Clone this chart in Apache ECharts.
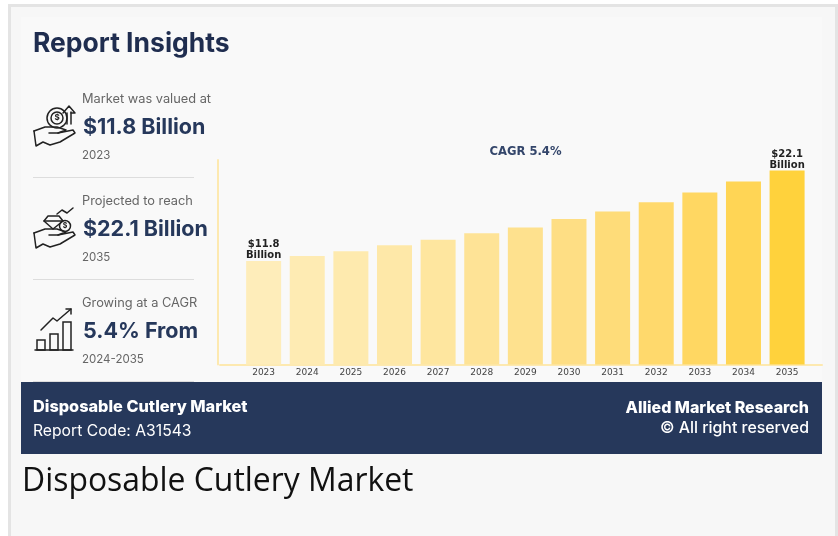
<!DOCTYPE html>
<html><head><meta charset="utf-8">
<style>html,body{margin:0;padding:0;background:#fff}#c{width:838px;height:536px}</style>
<script src="https://cdn.jsdelivr.net/npm/echarts@6/dist/echarts.min.js"></script>
</head><body><div id="c"></div>
<script>
const years=[2023,2024,2025,2026,2027,2028,2029,2030,2031,2032,2033,2034,2035];
const values=[11.8,12.36,12.9,13.58,14.2,14.94,15.6,16.57,17.44,18.5,19.6,20.85,22.1];
const barColors=['#FEEDBA','#FEEBB3','#FEEAAE','#FEE8A8','#FEE69F','#FEE396','#FEE18E','#FEDE84','#FEDC79','#FFD96C','#FFD762','#FFD555','#FFD23C'];
const endLabels={2023:'$11.8\nBillion',2035:'$22.1\nBillion'};
const navy='#26385B', grey='#666666', axisYellow='#FDE9B0';
const stats=[
 {top:'Market was valued at',big:'$11.8 Billion',sub:'2023',y:99},
 {top:'Projected to reach',big:'$22.1 Billion',sub:'2035',y:201},
 {top:'Growing at a CAGR',big:'5.4% From',sub:'2024-2035',y:303}
];
const sans='Inter, "Open Sans", sans-serif';
function txt(x,y,t,size,weight,fill,family,align){return {type:'text',x,y,z:5,style:{text:t,fontSize:size,fontWeight:weight,fill,fontFamily:family||sans,align:align||'left',verticalAlign:'middle'}};}
function rect(x,y,w,h,fill,z){return {type:'rect',x,y,z:z,shape:{x:0,y:0,width:w,height:h},style:{fill}};}
function ln(pts,w){return {type:'polyline',z:5,shape:{points:pts},style:{stroke:'#222',lineWidth:w||1.5,fill:null,lineJoin:'round',lineCap:'round'}};}
function circ(cx,cy,r,w){return {type:'circle',z:5,shape:{cx,cy,r},style:{stroke:'#222',lineWidth:w||1.5,fill:null}};}
function box(x,y,w,h){return {type:'rect',z:5,shape:{x,y,width:w,height:h},style:{stroke:'#222',lineWidth:1.5,fill:null}};}
function hand(dx,dy){return [
 ln([[34+dx,131+dy],[45+dx,127+dy],[57+dx,127+dy],[66+dx,130+dy],[58+dx,133+dy],[49+dx,133+dy]]),
 ln([[58+dx,133+dy],[73+dx,130+dy],[75+dx,133+dy],[60+dx,142+dy],[50+dx,145+dy],[43+dx,142+dy],[36+dx,146+dy],[34+dx,131+dy]])
];}
const g=[
 rect(8,4,830,532,'#E4E4E4',-30),
 rect(11,7,824,529,'#F7F7F7',-29),
 rect(21,17,801,365,'#F9F9F9',-28),
 rect(21,382,801,72,navy,-27),
 txt(33,44,'Report Insights',26.5,700,'#1F2D4F'),
 rect(33,177,161,1,'#DDDDDD',1),
 rect(33,279,161,1,'#DDDDDD',1),
 rect(33,381,161,1,'#DDDDDD',1),
 txt(525.5,152,'CAGR 5.4%',11.6,700,'#34466B','"DejaVu Sans"','center'),
 txt(33,407,'Disposable Cutlery Market',16.3,800,'#FFFFFF'),
 txt(33,431,'Report Code: A31543',15.7,400,'#FFFFFF'),
 txt(809,408,'Allied Market Research',16,800,'#FFFFFF',sans,'right'),
 txt(809,428,'© All right reserved',15.9,500,'#FFFFFF',sans,'right'),
 txt(22,482,'Disposable Cutlery Market',31.9,400,'#111111','"Open Sans"'),
 ...hand(0,0),
 circ(57,118,10),circ(57,118,6),
 txt(57,118,'$',8,700,'#222',sans,'center'),
 ln([[67,124],[67,113]]),ln([[71,124],[71,112]]),ln([[63,113],[69,106],[75,113],[71,113]]),
 ...hand(0,102),
 ln([[44,221],[48,216],[59,216],[63,221],[53,229],[44,221]]),ln([[44,221],[63,221]]),
 circ(65,226,5.5),
 txt(65,226,'$',7,700,'#222',sans,'center'),
 ln([[57,214],[62,210],[67,213],[73,208]]),
 ln([[35,350],[73,350]]),
 box(37,340,8,10),box(50,334,8,16),box(63,322,8,28),
 ln([[41,330],[53,318],[57,321],[71,309]]),
 ln([[66,309],[71,309],[71,314]])
];
stats.forEach(s=>{
 g.push(txt(82,s.y,s.top,12.8,400,grey));
 g.push(txt(83,s.y+29,s.big,21.5,700,navy));
 g.push(txt(82,s.y+57,s.sub,11.5,400,grey));
});
const chart=echarts.init(document.getElementById('c'));
chart.setOption({
 animation:false,
 backgroundColor:'transparent',
 graphic:g,
 grid:{left:220,right:16,top:160,bottom:171.5,containLabel:false},
 xAxis:{type:'value',min:2022,max:2035.8,interval:1,
  splitLine:{show:false},axisTick:{show:false},
  axisLine:{show:true,lineStyle:{color:axisYellow,width:2}},
  axisLabel:{margin:4,fontSize:9,color:'#444',fontFamily:'"DejaVu Sans"',
   showMaxLabel:false,
   formatter:v=>years.includes(v)?String(v):''}},
 yAxis:{type:'value',min:0,max:23.3,offset:2,splitLine:{show:false},axisTick:{show:false},axisLabel:{show:false},
  axisLine:{show:true,lineStyle:{color:axisYellow,width:2}}},
 series:[{type:'bar',barWidth:35,
  data:years.map((y,i)=>({value:[y,values[i]],itemStyle:{color:barColors[i]},
   label:{show:!!endLabels[y],position:'top',distance:0,formatter:endLabels[y]||'',fontFamily:'"DejaVu Sans"',fontSize:10,fontWeight:700,color:'#222',lineHeight:11}}))}]
});
</script></body></html>
